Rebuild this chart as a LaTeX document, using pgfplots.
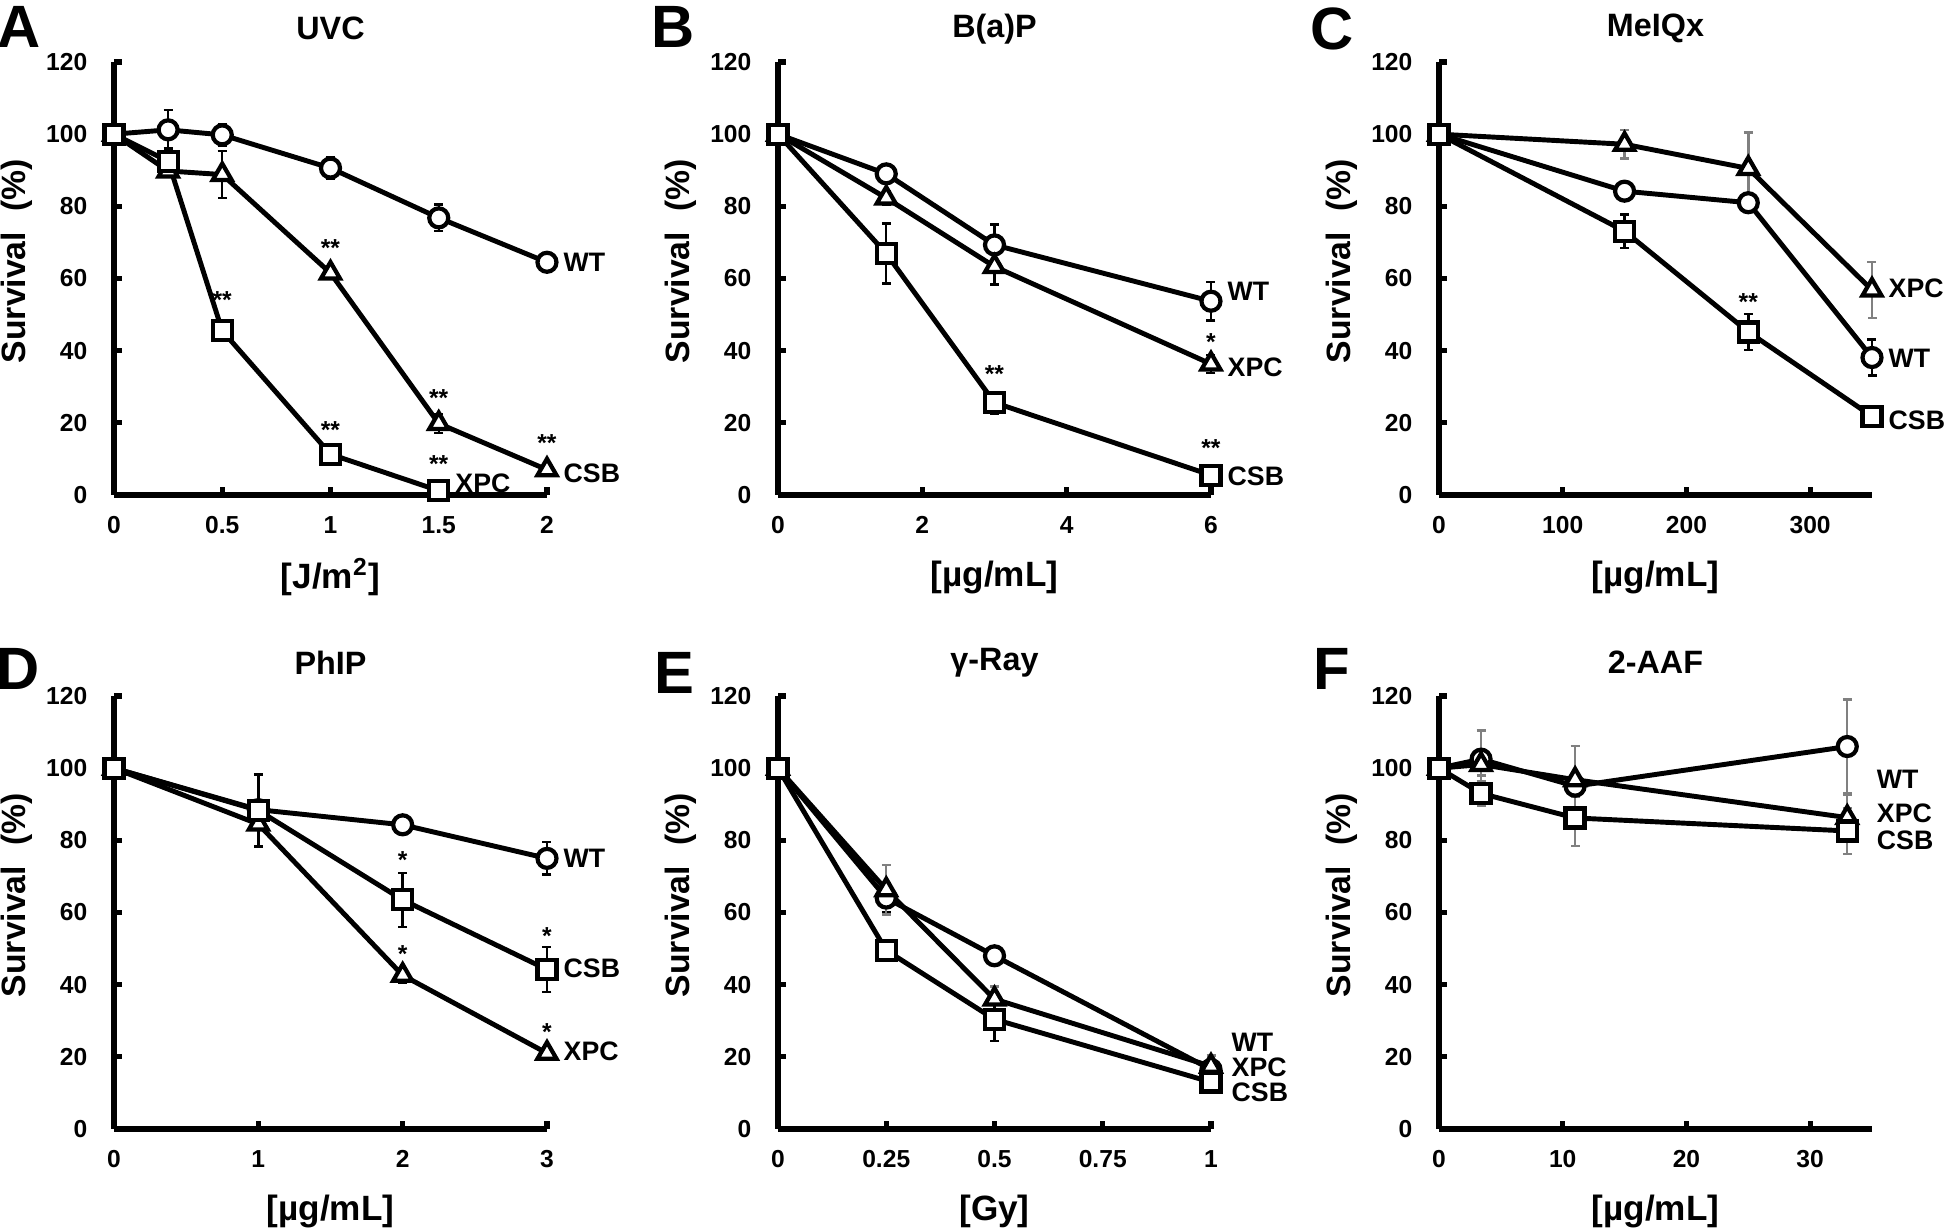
\documentclass[border=0pt]{standalone}
\usepackage{pgfplots}
\pgfplotsset{compat=1.18}
\usepackage{fontspec}
\setmainfont{Liberation Sans}

\newcommand{\fs}[1]{\fontsize{#1}{#1}\selectfont\bfseries}

\pgfplotsset{
  surv/.style={
    scale only axis, width=43.3mm, height=43.3mm, anchor=south west,
    axis lines=left, axis line style={-, line width=1.6pt},
    clip=false, ymin=0, ymax=120, ytick={0,20,...,120},
    tick align=inside, major tick length=0.8mm,
    every tick/.style={black, line width=1.5pt},
    /pgf/number format/assume math mode=true,
    tick label style={font=\fs{7}},
    yticklabel style={anchor=east, inner sep=0pt, xshift=-2.6mm},
    xticklabel style={anchor=north, inner sep=0pt, yshift=-2.1mm},
    ylabel={Survival\hspace{0.6em}(\%)},
    ylabel style={font=\fs{9.6}, at={(axis description cs:-0.224,0.54)}, anchor=center},
    xlabel style={font=\fs{10}, at={(axis description cs:0.5,-0.19)}, anchor=center},
    every axis title/.style={font=\fs{9.2}, at={(axis description cs:0.5,1.077)}, anchor=center},
  },
  err/.style={error bars/y dir=both, error bars/y explicit,
    error bars/error bar style={line width=0.7pt, #1},
    error bars/error mark options={rotate=90, line width=0.7pt, mark size=0.45mm, #1}},
  err/.default=black,
  wt/.style={black, line width=1.4pt, mark=*, mark size=0.95mm,
    mark options={fill=white, line width=1.2pt}},
  tri/.style={black, line width=1.4pt, mark=triangle*, mark size=1.1mm,
    mark options={fill=white, line width=1.2pt}},
  sq/.style={black, line width=1.4pt, mark=square*, mark size=0.95mm,
    mark options={fill=white, line width=1.2pt}},
}
\tikzset{
  lab/.style={font=\fs{7.6}, anchor=west, inner sep=0pt, xshift=1.6mm},
  st/.style={font=\fs{7}, inner sep=0pt},
  pl/.style={font=\fs{17}, inner sep=0pt},
}

\begin{document}
\begin{tikzpicture}
\useasboundingbox (0,0) rectangle (194.5mm,-122.8mm);

% ---- A: UVC ----
\begin{axis}[surv, at={(11.4mm,-49.5mm)}, xmin=0, xmax=2,
  xtick={0,0.5,1,1.5,2}, xticklabels={0,0.5,1,1.5,2},
  title={UVC}, xlabel={[J/m\textsuperscript{2}]}]
\addplot[wt, err] coordinates {(0,100)+-(0,0) (0.25,101.2)+-(0,5.5) (0.5,99.8)+-(0,3) (1,90.6)+-(0,3) (1.5,76.8)+-(0,3.7) (2,64.5)+-(0,1)};
\addplot[tri, err] coordinates {(0,100)+-(0,0) (0.25,89.8)+-(0,1.5) (0.5,88.8)+-(0,6.5) (1,61.5)+-(0,1.5) (1.5,19.8)+-(0,2.6) (2,7)+-(0,1)};
\addplot[sq, err] coordinates {(0,100)+-(0,0) (0.25,92.5)+-(0,3.5) (0.5,45.5)+-(0,1.5) (1,11.3)+-(0,2) (1.5,1.2)+-(0,0.5)};
\node[st] at (axis cs:0.5,54) {**};
\node[st] at (axis cs:1,68.5) {**};
\node[st] at (axis cs:1,18) {**};
\node[st] at (axis cs:1.5,27) {**};
\node[st] at (axis cs:1.5,8.5) {**};
\node[st] at (axis cs:2,14.5) {**};
\node[lab] at (axis cs:2,64.5) {WT};
\node[lab] at (axis cs:2,6) {CSB};
\node[lab] at (axis cs:1.5,3.2) {XPC};
\end{axis}

% ---- B: B(a)P ----
\begin{axis}[surv, at={(77.8mm,-49.5mm)}, xmin=0, xmax=6,
  xtick={0,2,4,6}, xticklabels={0,2,4,6},
  title={B(a)P}, xlabel={[µg/mL]}]
\addplot[wt, err] coordinates {(0,100)+-(0,0) (1.5,89)+-(0,1) (3,69.3)+-(0,5.7) (6,53.7)+-(0,5.4)};
\addplot[tri, err] coordinates {(0,100)+-(0,0) (1.5,82.3)+-(0,2) (3,63.3)+-(0,5) (6,36.3)+-(0,2.5)};
\addplot[sq, err] coordinates {(0,100)+-(0,0) (1.5,66.9)+-(0,8.3) (3,25.6)+-(0,3) (6,5.5)+-(0,0.5)};
\node[st] at (axis cs:6,42.5) {*};
\node[st] at (axis cs:3,33.5) {**};
\node[st] at (axis cs:6,13) {**};
\node[lab] at (axis cs:6,56.5) {WT};
\node[lab] at (axis cs:6,35.5) {XPC};
\node[lab] at (axis cs:6,5.2) {CSB};
\end{axis}

% ---- C: MeIQx ----
\begin{axis}[surv, at={(143.9mm,-49.5mm)}, xmin=0, xmax=350,
  xtick={0,100,200,300}, xticklabels={0,100,200,300},
  title={MeIQx}, xlabel={[µg/mL]}]
\addplot[wt, err] coordinates {(0,100)+-(0,0) (150,84.2)+-(0,1) (250,81)+-(0,1) (350,38.1)+-(0,5)};
\addplot[tri, err=gray] coordinates {(0,100)+-(0,0) (150,97.2)+-(0,4) (250,90.5)+-(0,10) (350,56.8)+-(0,7.8)};
\addplot[sq, err] coordinates {(0,100)+-(0,0) (150,73.1)+-(0,4.6) (250,45.2)+-(0,5) (350,21.8)+-(0,1)};
\node[st] at (axis cs:250,53.5) {**};
\node[lab] at (axis cs:350,57.2) {XPC};
\node[lab] at (axis cs:350,37.9) {WT};
\node[lab] at (axis cs:350,20.6) {CSB};
\end{axis}

% ---- D: PhIP ----
\begin{axis}[surv, at={(11.4mm,-112.9mm)}, xmin=0, xmax=3,
  xtick={0,1,2,3}, xticklabels={0,1,2,3},
  title={PhIP}, xlabel={[µg/mL]}]
\addplot[wt, err] coordinates {(0,100)+-(0,0) (1,88.5)+-(0,2) (2,84.3)+-(0,2.5) (3,75)+-(0,4.5)};
\addplot[tri, err] coordinates {(0,100)+-(0,0) (1,84.5)+-(0,6) (2,42.6)+-(0,2) (3,21)+-(0,1)};
\addplot[sq, err] coordinates {(0,100)+-(0,0) (1,88.3)+-(0,10) (2,63.5)+-(0,7.5) (3,44.2)+-(0,6.3)};
\node[st] at (axis cs:2,74.5) {*};
\node[st] at (axis cs:2,48.5) {*};
\node[st] at (axis cs:3,53.5) {*};
\node[st] at (axis cs:3,27) {*};
\node[lab] at (axis cs:3,75) {WT};
\node[lab] at (axis cs:3,44.5) {CSB};
\node[lab] at (axis cs:3,21.5) {XPC};
\end{axis}

% ---- E: gamma-ray ----
\begin{axis}[surv, at={(77.8mm,-112.9mm)}, xmin=0, xmax=1,
  xtick={0,0.25,0.5,0.75,1}, xticklabels={0,0.25,0.5,0.75,1},
  title={γ-Ray}, xlabel={[Gy]}]
\addplot[wt, err] coordinates {(0,100)+-(0,0) (0.25,64)+-(0,4) (0.5,48)+-(0,2) (1,16.5)+-(0,1)};
\addplot[tri, err=gray] coordinates {(0,100)+-(0,0) (0.25,66.3)+-(0,6.8) (0.5,36)+-(0,3.5) (1,17.4)+-(0,3)};
\addplot[sq, err] coordinates {(0,100)+-(0,0) (0.25,49.5)+-(0,1) (0.5,30.4)+-(0,6) (1,13)+-(0,1)};
\node[lab, xshift=0.4mm] at (axis cs:1,24) {WT};
\node[lab, xshift=0.4mm] at (axis cs:1,17.2) {XPC};
\node[lab, xshift=0.4mm] at (axis cs:1,10.3) {CSB};
\end{axis}

% ---- F: 2-AAF ----
\begin{axis}[surv, at={(143.9mm,-112.9mm)}, xmin=0, xmax=35,
  xtick={0,10,20,30}, xticklabels={0,10,20,30},
  title={2-AAF}, xlabel={[µg/mL]}]
\addplot[wt, err=gray] coordinates {(0,100)+-(0,0) (3.4,102.5)+-(0,8) (11,95)+-(0,3) (33,106)+-(0,13)};
\addplot[tri, err=gray] coordinates {(0,100)+-(0,0) (3.4,101)+-(0,3) (11,96.8)+-(0,9.4) (33,86.3)+-(0,6.3)};
\addplot[sq, err=gray] coordinates {(0,100)+-(0,0) (3.4,93)+-(0,3.5) (11,86.2)+-(0,7.8) (33,82.6)+-(0,6.4)};
\node[lab, xshift=1.3mm] at (axis cs:33,96.8) {WT};
\node[lab, xshift=1.3mm] at (axis cs:33,87.5) {XPC};
\node[lab, xshift=1.3mm] at (axis cs:33,80) {CSB};
\end{axis}

% panel letters
\node[pl] at (1.9mm,-2.7mm) {A};
\node[pl] at (67.3mm,-2.7mm) {B};
\node[pl] at (133.2mm,-2.9mm) {C};
\node[pl] at (1.8mm,-66.9mm) {D};
\node[pl] at (67.4mm,-67.3mm) {E};
\node[pl] at (133.2mm,-66.9mm) {F};
\end{tikzpicture}
\end{document}
